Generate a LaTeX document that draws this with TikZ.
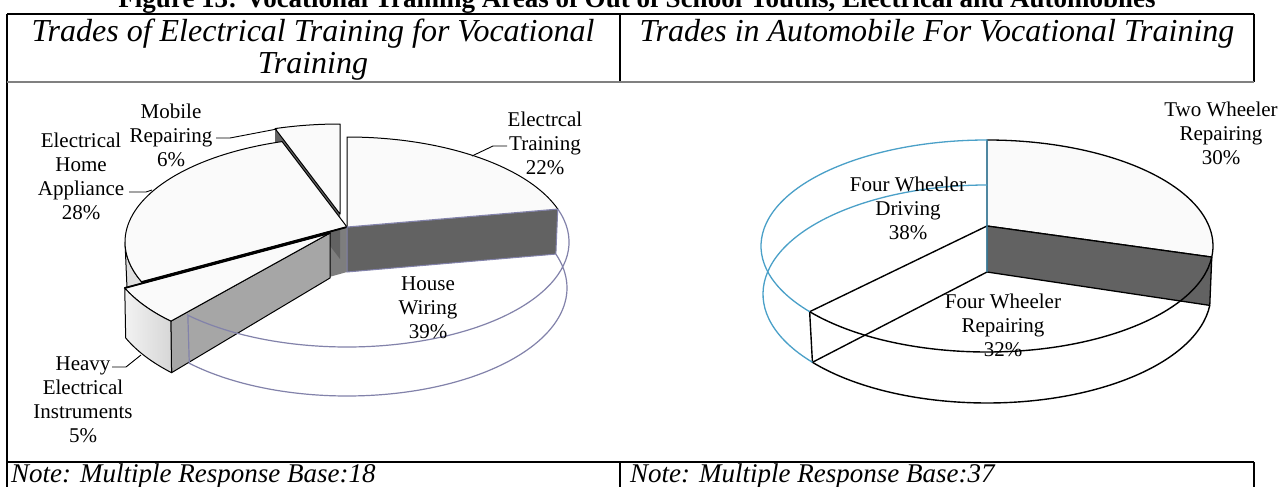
\documentclass[tikz,border=0pt]{standalone}
\usepackage{fontspec}
\setmainfont{Liberation Serif}
\usetikzlibrary{calc}
\definecolor{topface}{HTML}{FAFAFA}
\definecolor{darkface}{HTML}{626262}
\definecolor{midface}{HTML}{A6A6A6}
\definecolor{cutface}{HTML}{7E7E7E}
\definecolor{purp}{HTML}{8282AA}
\definecolor{blueline}{HTML}{4AA0C8}
\definecolor{hdrline}{HTML}{808080}
\begin{document}
\begin{tikzpicture}[x=1pt,y=-1pt,
  lbl/.style={align=center, font=\fontsize{21}{24}\selectfont, inner sep=0pt},
  hdr/.style={align=center, font=\itshape\fontsize{32}{32}\selectfont, inner sep=0pt},
  notetxt/.style={font=\itshape\fontsize{27}{30}\selectfont, inner sep=0pt, anchor=base west},
  face/.style={draw=black, line width=1pt, line join=round},
  leader/.style={draw=black, line width=0.9pt},
  tbl/.style={line width=1.8pt},
  thickedge/.style={line width=1.8pt, line cap=round}]
\useasboundingbox (0,0) rectangle (1278,487);
\fill[white] (0,0) rectangle (1278,487);

% ---------- figure title (cut at top) ----------
\node[font=\bfseries\fontsize{27}{30}\selectfont, anchor=base, inner sep=0pt] (fig) at (637,8)
  {Figure 13: Vocational Training Areas of Out of School Youths, Electrical and Automobiles};

% ---------- table ----------
\draw[tbl] (7,14) -- (1254,14);
\draw[tbl] (7,14) -- (7,487);
\draw[tbl] (620,14) -- (620,82);
\draw[tbl] (1254,14) -- (1254,82);
\draw[line width=1.8pt, hdrline] (7,82) -- (1254,82);
\draw[tbl] (7,462) -- (1254,462);
\draw[tbl] (620,462) -- (620,487);
\draw[tbl] (1254,462) -- (1254,487);

\node[hdr] (h1) at (313,50) {Trades of Electrical Training for Vocational\\Training};
\node[hdr] (h2) at (937,34) {Trades in Automobile For Vocational Training};
\node[notetxt] (n1) at (11,482) {Note: Multiple Response Base:18};
\node[notetxt] (n2) at (630,482) {Note: Multiple Response Base:37};

% ---------- left pie ----------
\coordinate (c0) at (347,242);
\coordinate (c1) at (347,288);
\coordinate (A) at (347,227);
\coordinate (Ab) at (347,272);
\coordinate (T90) at ($(c0)+(-90:222 and 105)$);
\coordinate (P1) at ($(c0)+(-18.3:222 and 105)$);
\coordinate (P1b) at ($(c1)+(-18.3:220 and 108)$);
\coordinate (P2) at ($(c0)+(135.8:222 and 105)$);
\coordinate (P2b) at ($(c1)+(135.8:220 and 108)$);
\coordinate (P3) at ($(c0)+(157.6:222 and 105)$);
\coordinate (P3b) at ($(c1)+(157.6:220 and 108)$);
\coordinate (P180b) at ($(c1)+(180:220 and 108)$);

% mobile (exploded)
\coordinate (M) at (340,214);
\coordinate (Mc) at (340,229);
\coordinate (Mt) at ($(Mc)+(-90:222 and 105)$);
\coordinate (M4) at ($(Mc)+(253:222 and 105)$);

% heavy (exploded)
\coordinate (hc0) at (330,248);
\coordinate (hc1) at (330,296);
\coordinate (H) at (330,233);
\coordinate (Hb) at (330,278);
\coordinate (H2) at ($(hc0)+(135.8:222 and 105)$);
\coordinate (H3) at ($(hc0)+(157.6:222 and 105)$);
\coordinate (H2b) at ($(hc1)+(135.8:221 and 110)$);
\coordinate (H3b) at ($(hc1)+(157.6:221 and 110)$);

% home appliance cut face and side
\fill[cutface] (A) -- (P3) -- (P3b) -- (Ab) -- cycle;
\draw[face, fill=gray!25] (P3) arc[start angle=157.6, end angle=180, x radius=222, y radius=105]
  -- (P180b) arc[start angle=180, end angle=157.6, x radius=220, y radius=108] -- cycle;

% mobile repairing
\fill[darkface] (M4) -- (M) -- ($(M)+(0,45)$) -- ($(M4)+(0,45)$) -- cycle;
\draw[face, fill=topface] (M) -- (Mt) arc[start angle=-90, end angle=-107, x radius=222, y radius=105] -- cycle;

% home appliance top
\draw[face, fill=topface] (A) -- (P3) arc[start angle=157.6, end angle=253, x radius=222, y radius=105] -- cycle;
\draw[thickedge] (A) -- (P3);

% electrical training
\draw[fill=darkface, draw=purp, line width=1pt] (A) -- (P1) -- (P1b) -- (Ab) -- cycle;
\fill[topface] (A) -- (T90) arc[start angle=-90, end angle=-18.3, x radius=222, y radius=105] -- cycle;
\draw[face] (A) -- (T90) arc[start angle=-90, end angle=-18.3, x radius=222, y radius=105];
\draw[purp, line width=1pt] (A) -- (P1);

% heavy inner face
\draw[face, fill=midface] (H2) -- (H) -- (Hb) -- (H2b) -- cycle;

% house wiring (transparent outline)
\draw[purp, line width=1.2pt] (P1) arc[start angle=-18.3, end angle=135.8, x radius=222, y radius=105]
  -- (P2b) arc[start angle=135.8, end angle=-18.3, x radius=220, y radius=108];

% heavy top and front
\draw[face, fill=topface] (H) -- (H3) arc[start angle=157.6, end angle=135.8, x radius=222, y radius=105] -- cycle;
\draw[thickedge] (H) -- (H3);
\draw[face, left color=gray!10, right color=gray!32] (H3) arc[start angle=157.6, end angle=135.8, x radius=222, y radius=105]
  -- (H2b) arc[start angle=135.8, end angle=157.6, x radius=221, y radius=110] -- cycle;

% labels left
\node[lbl] (lMob) at (171,135) {Mobile\\Repairing\\6\%};
\node[lbl] (lHA) at (81,176) {Electrical\\Home\\Appliance\\28\%};
\node[lbl] (lET) at (545,143) {Electrcal\\Training\\22\%};
\node[lbl] (lHW) at (428,308) {House\\Wiring\\39\%};
\node[lbl] (lHE) at (83,400) {Heavy\\Electrical\\Instruments\\5\%};

\coordinate (kMob) at (277,129);
\coordinate (kHA) at (152,190);
\coordinate (kET) at (472,156);
\coordinate (kHE) at (141,355);
\draw[leader] (216,138) -- (230,138) -- (kMob);
\draw[leader] (129,192) -- (146,192) -- (kHA);
\draw[leader] (507,146) -- (493,146) -- (kET);
\draw[leader] (112,367) -- (126,367) -- (kHE);

% ---------- right pie ----------
\coordinate (rc0) at (987,246);
\coordinate (rc1) at (987,294);
\coordinate (RA) at (987,226);
\coordinate (RAb) at (987,272);
\coordinate (RT) at ($(rc0)+(-90:226 and 106)$);
\coordinate (R1) at ($(rc0)+(6:226 and 106)$);
\coordinate (R1b) at ($(rc1)+(6:224 and 109)$);
\coordinate (R2) at ($(rc0)+(141.7:226 and 106)$);
\coordinate (R2b) at ($(rc1)+(141.2:224 and 109)$);

\draw[face, fill=topface, line width=1.3pt] (RA) -- (RT) arc[start angle=-90, end angle=6, x radius=226, y radius=106] -- cycle;
\draw[face, fill=darkface, line width=1.3pt] (RA) -- (R1) -- (R1b) -- (RAb) -- cycle;
\draw[face, line width=1.4pt] (R1) arc[start angle=6, end angle=141.7, x radius=226, y radius=106]
  -- (R2b) arc[start angle=141.2, end angle=6, x radius=224, y radius=109];
\draw[face, line width=1.4pt] (R2) -- (RA);
\draw[face, line width=1.4pt] (R2b) -- (RAb);
\draw[blueline, line width=1.3pt] (R2) arc[start angle=141.7, end angle=270, x radius=226, y radius=106] -- (RAb);
\draw[blueline, line width=1.3pt] (R2b) arc[start angle=141.2, end angle=270, x radius=224, y radius=109];

\node[lbl] (lTW) at (1221,133) {Two Wheeler\\Repairing\\30\%};
\node[lbl] (lFD) at (908,208) {Four Wheeler\\Driving\\38\%};
\node[lbl] (lFR) at (1003,325) {Four Wheeler\\Repairing\\32\%};
\end{tikzpicture}
\end{document}
